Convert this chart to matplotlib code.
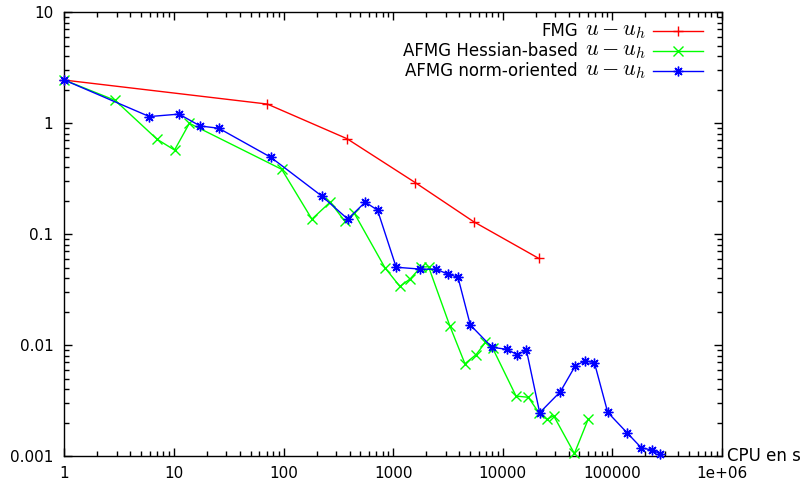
import matplotlib
matplotlib.use("Agg")
import matplotlib.pyplot as plt
from matplotlib.ticker import LogLocator, FixedLocator, FixedFormatter, NullFormatter
from matplotlib.transforms import offset_copy

plt.rcParams['font.family'] = ['DejaVu Sans']
plt.rcParams['mathtext.fontset'] = 'cm'

# ---- data ----
fmg_x = [1, 71, 378, 1590, 5410, 21200]
fmg_y = [2.45, 1.49, 0.727, 0.292, 0.130, 0.0608]

hess_x = [1, 2.9, 7.0, 10.1, 13.8, 96, 181, 266, 362, 441, 840, 1150, 1429, 1780,
          2100, 3290, 4510, 5710, 6920, 8090, 13200, 17100, 21500, 25300, 29100,
          45000, 60000]
hess_y = [2.45, 1.61, 0.718, 0.574, 1.0, 0.385, 0.137, 0.195, 0.131, 0.155, 0.0500,
          0.0339, 0.0397, 0.0505, 0.0511, 0.0149, 0.00683, 0.00825, 0.0106, 0.0094,
          0.00349, 0.0034, 0.00244, 0.00215, 0.00232, 0.00106, 0.00215]

norm_x = [1, 5.95, 11.1, 17.3, 25.6, 76.4, 223, 385, 555, 719, 1064, 1765, 2473,
          3136, 3897, 5050, 7960, 10900, 13600, 16400, 21700, 33500, 45900, 56600,
          68500, 90600, 136000, 184000, 230000, 274000]
norm_y = [2.45, 1.15, 1.21, 0.946, 0.902, 0.494, 0.221, 0.137, 0.195, 0.165, 0.0505,
          0.0486, 0.0484, 0.0439, 0.041, 0.01525, 0.0096, 0.0092, 0.0082, 0.0091,
          0.00247, 0.00382, 0.00655, 0.00726, 0.00697, 0.00249, 0.00163, 0.00119,
          0.00114, 0.00105]

names = ["FMG", "AFMG Hessian-based", "AFMG norm-oriented"]
math_part = "$u - u_h$"
colors = ["#ff0000", "#00ff00", "#0000ff"]
markers = ["+", "x", (8, 2, 0)]

x_ticks = [1, 10, 100, 1000, 10000, 100000, 1e6]
x_ticklabels = ["1", "10", "100", "1000", "10000", "100000", "1e+06"]
y_ticks = [0.001, 0.01, 0.1, 1, 10]
y_ticklabels = ["0.001", "0.01", "0.1", "1", "10"]

fig = plt.figure(figsize=(8.04, 4.86), dpi=100)
ax = fig.add_axes([0.0802, 0.0611, 0.8178, 0.9136])

series = [(fmg_x, fmg_y), (hess_x, hess_y), (norm_x, norm_y)]
for (xs, ys), c, m in zip(series, colors, markers):
    ax.plot(xs, ys, color=c, lw=1.0, marker=m, markersize=7, markeredgewidth=1.0,
            clip_on=False, zorder=3)

ax.set_xscale('log')
ax.set_yscale('log')
ax.set_xlim(1, 1e6)
ax.set_ylim(0.001, 10)

ax.xaxis.set_major_locator(FixedLocator(x_ticks))
ax.xaxis.set_major_formatter(FixedFormatter(x_ticklabels))
ax.yaxis.set_major_locator(FixedLocator(y_ticks))
ax.yaxis.set_major_formatter(FixedFormatter(y_ticklabels))
ax.xaxis.set_minor_locator(LogLocator(base=10, subs=range(2, 10), numticks=20))
ax.yaxis.set_minor_locator(LogLocator(base=10, subs=range(2, 10), numticks=20))
ax.xaxis.set_minor_formatter(NullFormatter())
ax.yaxis.set_minor_formatter(NullFormatter())

ax.tick_params(which='both', direction='in', top=True, right=True, width=1.0,
               labelsize=11, color='black')
ax.tick_params(which='major', length=6)
ax.tick_params(which='minor', length=3.5)
ax.tick_params(axis='x', which='major', pad=7)
ax.tick_params(axis='y', which='major', pad=8)
for s in ax.spines.values():
    s.set_linewidth(1.0)

ax.text(1.008, 0.0, "CPU en s", transform=ax.transAxes, ha='left', va='center',
        fontsize=12)

# legend drawn gnuplot-style: right-aligned text, line sample to the right
renderer = fig.canvas.get_renderer()
rows_y = [0.9586, 0.9135, 0.8685]
for name, c, m, yy in zip(names, colors, markers, rows_y):
    mt = ax.text(0.884, yy, math_part, transform=ax.transAxes, ha='right',
                 va='center', fontsize=16)
    bb = mt.get_window_extent(renderer=renderer)
    width_pts = bb.width * 72.0 / fig.dpi
    tr = offset_copy(ax.transAxes, fig=fig, x=-(width_pts + 5), y=0, units='points')
    ax.text(0.884, yy, name, transform=tr, ha='right', va='center', fontsize=12)
    ax.plot([0.895, 0.971], [yy, yy], color=c, lw=1.0, transform=ax.transAxes,
            clip_on=False)
    ax.plot([0.933], [yy], color=c, marker=m, markersize=7, markeredgewidth=1.0,
            transform=ax.transAxes, clip_on=False)

fig.savefig("out.png", dpi=100)
